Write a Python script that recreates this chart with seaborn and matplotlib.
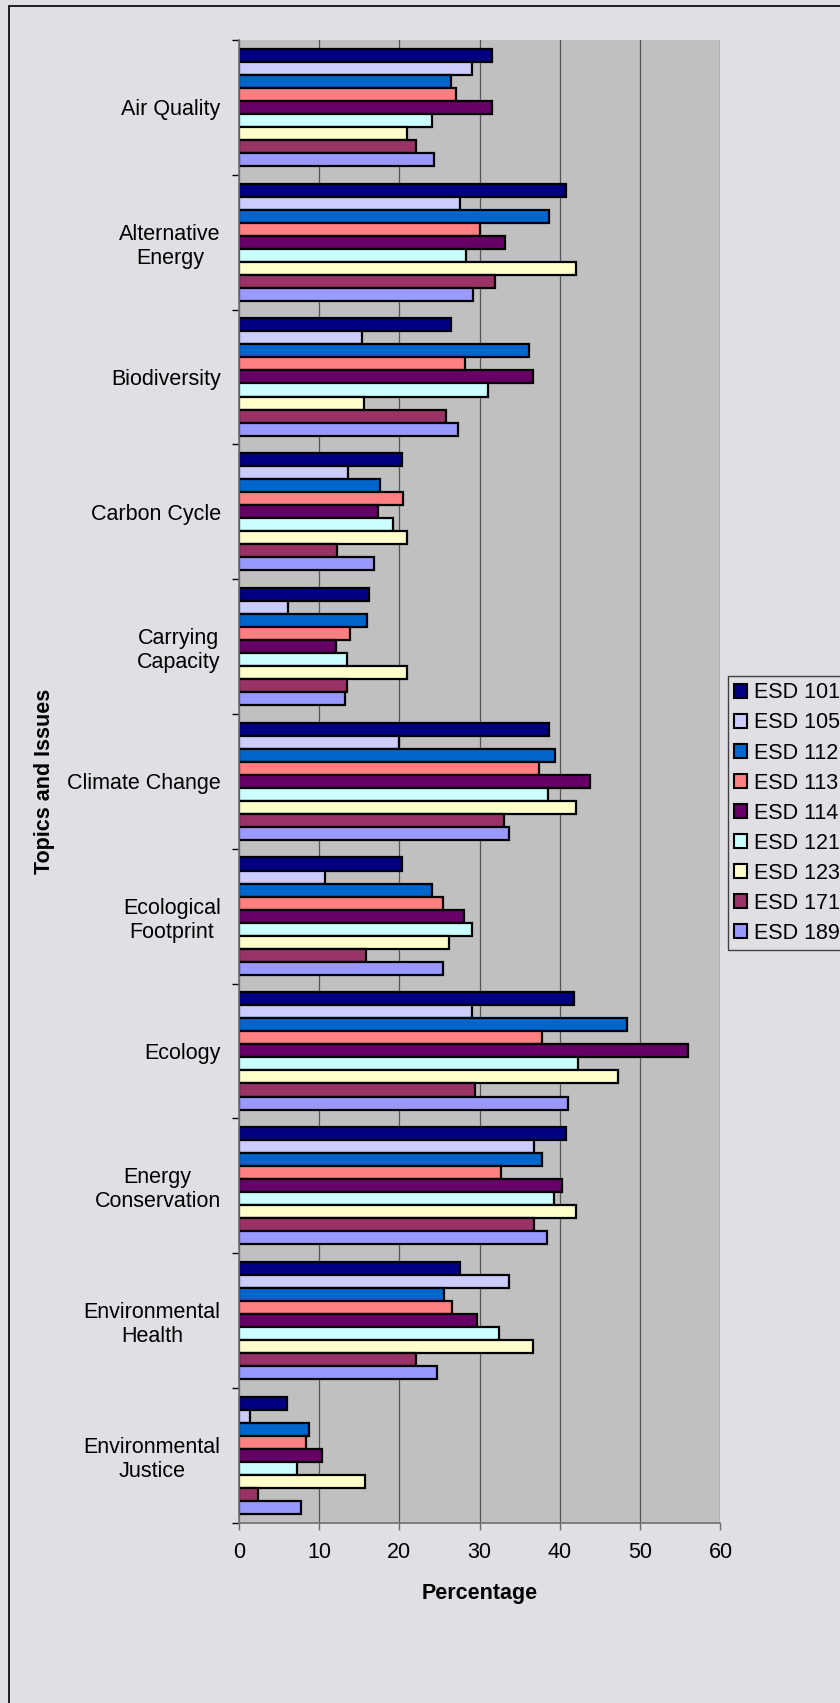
import matplotlib
matplotlib.use("Agg")
import matplotlib.pyplot as plt
import matplotlib.patches as mpatches
import seaborn as sns
import pandas as pd
import numpy as np

topics = ["Air Quality", "Alternative\nEnergy", "Biodiversity", "Carbon Cycle",
          "Carrying\nCapacity", "Climate Change", "Ecological\nFootprint", "Ecology",
          "Energy\nConservation", "Environmental\nHealth", "Environmental\nJustice"]
courses = ["ESD 101", "ESD 105", "ESD 112", "ESD 113", "ESD 114",
           "ESD 121", "ESD 123", "ESD 171", "ESD 189"]
colors = ["#000080", "#CCCCFF", "#0066CC", "#FF8080", "#660066",
          "#CCFFFF", "#FFFFCC", "#993366", "#9999FF"]

# values per topic, in course order
air_quality = [31.5, 29.0, 26.4, 27.0, 31.5, 24.1, 20.9, 22.1, 24.3]
alternative_energy = [40.7, 27.6, 38.6, 30.0, 33.2, 28.3, 42.0, 31.9, 29.2]
biodiversity = [26.4, 15.3, 36.2, 28.2, 36.7, 31.1, 15.6, 25.8, 27.3]
carbon_cycle = [20.3, 13.6, 17.6, 20.4, 17.3, 19.2, 21.0, 12.2, 16.9]
carrying_capacity = [16.2, 6.1, 16.0, 13.9, 12.1, 13.5, 21.0, 13.5, 13.2]
climate_change = [38.7, 19.9, 39.4, 37.4, 43.8, 38.5, 42.0, 33.1, 33.6]
ecological_footprint = [20.3, 10.7, 24.1, 25.4, 28.0, 29.0, 26.2, 15.9, 25.5]
ecology = [41.7, 29.0, 48.3, 37.8, 56.0, 42.2, 47.3, 29.4, 41.0]
energy_conservation = [40.7, 36.8, 37.8, 32.7, 40.3, 39.3, 42.0, 36.8, 38.4]
environmental_health = [27.5, 33.7, 25.6, 26.6, 29.7, 32.4, 36.6, 22.1, 24.7]
environmental_justice = [6.0, 1.4, 8.8, 8.4, 10.4, 7.3, 15.7, 2.4, 7.7]

all_values = [air_quality, alternative_energy, biodiversity, carbon_cycle,
              carrying_capacity, climate_change, ecological_footprint, ecology,
              energy_conservation, environmental_health, environmental_justice]

x_ticks = [0, 10, 20, 30, 40, 50, 60]

rows = []
for t, vals in zip(topics, all_values):
    for c, v in zip(courses, vals):
        rows.append({"Topic": t, "Course": c, "Percentage": v})
df = pd.DataFrame(rows)

plt.rcParams["font.family"] = ["Liberation Sans", "DejaVu Sans"]
FS = 15.5
fig_bg = "#E0DFE4"

fig = plt.figure(figsize=(8.4, 17.03), dpi=100, facecolor=fig_bg)
ax = fig.add_axes([0.2842, 0.1059, 0.5735, 0.8706])
ax.set_facecolor("#C0C0C0")

sns.barplot(data=df, x="Percentage", y="Topic", hue="Course",
            order=topics, hue_order=courses, palette=colors, saturation=1,
            width=0.87, edgecolor="black", linewidth=1.6, errorbar=None,
            orient="h", ax=ax)

ax.set_xlim(0, 60)
ax.set_xticks(x_ticks)
ax.set_xticklabels([str(v) for v in x_ticks], fontsize=FS)
ax.set_ylim(len(topics) - 0.5, -0.5)
ax.set_yticks(np.arange(len(topics)))
ax.set_yticklabels(topics, fontsize=FS, ha="right", multialignment="center")
ax.set_yticks(np.arange(len(topics) + 1) - 0.5, minor=True)
ax.tick_params(axis="y", which="major", length=0, pad=13)
ax.tick_params(axis="y", which="minor", length=5, width=1, color="black", direction="out")
ax.tick_params(axis="x", which="major", length=5, width=1, color="#6a6a6a", pad=9)

ax.grid(axis="x", color="#555555", linewidth=0.9)
ax.grid(axis="y", visible=False)
ax.set_axisbelow(True)

for side in ["top", "right"]:
    ax.spines[side].set_visible(False)
ax.spines["left"].set_color("#707070")
ax.spines["bottom"].set_color("#707070")
ax.spines["left"].set_linewidth(1.2)
ax.spines["bottom"].set_linewidth(1.2)

ax.set_xlabel("Percentage", fontsize=FS, fontweight="bold", labelpad=14)
ax.set_ylabel("Topics and Issues", fontsize=FS, fontweight="bold", va="center")
ax.yaxis.set_label_coords(-0.403, 0.5)

if ax.legend_ is not None:
    ax.legend_.remove()
handles = [mpatches.Patch(facecolor=c, edgecolor="black", linewidth=1.5) for c in colors]
leg = ax.legend(handles, courses, loc="upper left",
                bbox_to_anchor=(728 / 840, 1 - 676 / 1703), bbox_transform=fig.transFigure,
                fontsize=FS, handlelength=0.6, handleheight=0.6, handletextpad=0.3,
                labelspacing=0.42, borderpad=0.3, borderaxespad=0,
                frameon=True, fancybox=False, framealpha=1)
leg.get_frame().set_facecolor(fig_bg)
leg.get_frame().set_edgecolor("#404040")
leg.get_frame().set_linewidth(1.0)

# outer chart frame (only left and top edges visible in the image)
frame = mpatches.Rectangle((8.5 / 840, -0.02), 1.0, 1 - 6.5 / 1703 + 0.02,
                           transform=fig.transFigure, fill=False,
                           edgecolor="black", linewidth=1.2, clip_on=False)
fig.patches.append(frame)

fig.savefig("out.png", dpi=100, facecolor=fig_bg)
